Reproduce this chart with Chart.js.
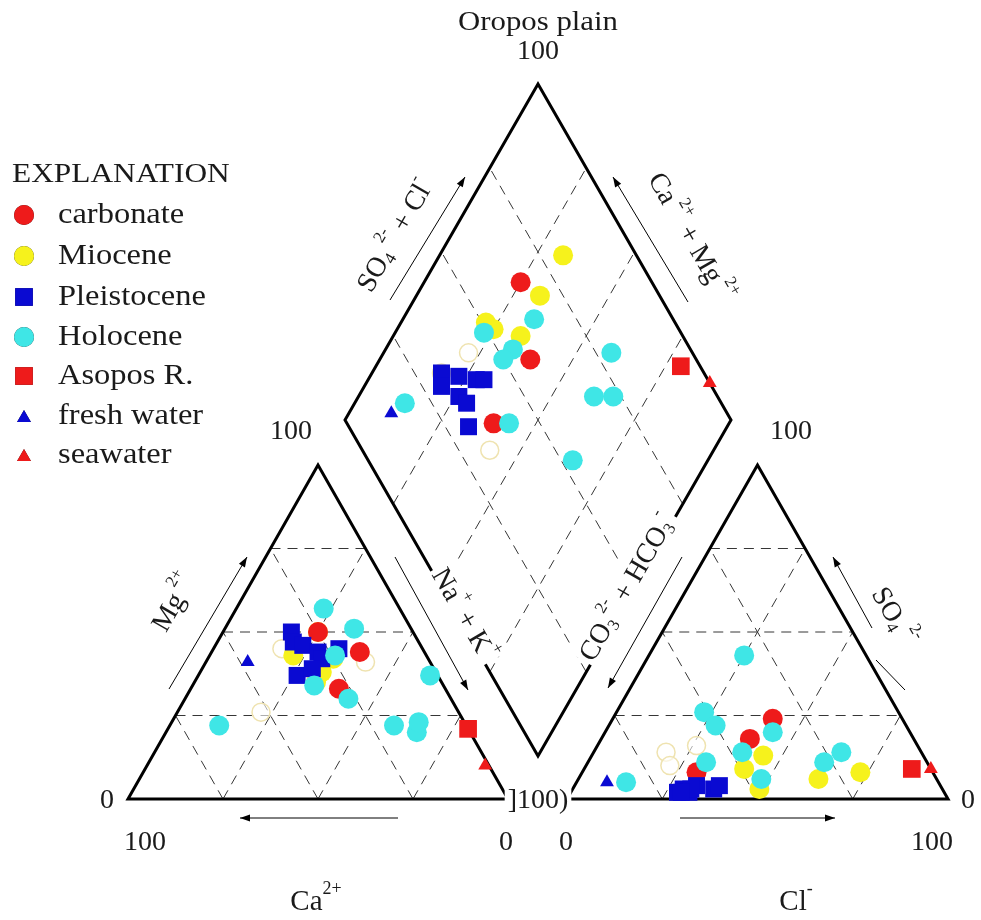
<!DOCTYPE html>
<html><head><meta charset="utf-8">
<script src="https://cdn.jsdelivr.net/npm/chart.js@4.4.1/dist/chart.umd.min.js"></script>
<style>html,body{margin:0;padding:0;background:#fff}#wrap{width:981px;height:920px;position:relative}</style>
</head><body><div id="wrap"><canvas id="c"></canvas></div>
<script>
// ---------------- DATA (milliequivalent %) ----------------
// cations: [Ca2+, Mg2+, Na+ + K+]   anions: [CO3 2- + HCO3-, SO4 2-, Cl-]
const seriesNames = ['carbonate','Miocene','Pleistocene','Holocene','Asopos R.','fresh water','seawater'];

const carbonateCations = [[25,50,25],[17,44,39],[28,33,39]];
const carbonateAnions  = [[34,24,42],[43,18,39],[62,8,30]];

const mioceneCations = [[30,38,32],[33,35,32],[35,43,22],[25,42,33],[25,50,25]];
const mioceneAnions  = [[19,8,73],[31,6,63],[49,9,42],[42,13,45],[48,3,49]];

const pleistoceneCations = [[32,50,18],[33,47,20],[31,46,23],[28,44,28],[28,42,30],[37,37,26],[32,39,29],[22,45,33]];
const pleistoceneAnions  = [[68,3,29],[70,2,28],[64,4,32],[60,3,37],[58,4,38],[67,2,31],[66,3,31],[69,2,29]];

const holoceneCations = [[15,51,34],[20,57,23],[24,43,33],[34,34,32],[19,22,59],[2,37,61],[14,20,66],[65,22,13],[27,30,43],[12,23,65]];
const holoceneAnions  = [[36,20,44],[51,26,23],[46,6,48],[50,22,28],[21,14,65],[32,43,25],[27,11,62],[82,5,13],[58,11,31],[47,14,39]];

const asoposCations = [[0,21,79]];
const asoposAnions  = [[5,9,86]];

const freshCations = [[48,41,11]];
const freshAnions  = [[87,5,8]];

const seaCations = [[1,10,89]];
const seaAnions  = [[0,9,91]];

// faint (unfilled) samples
const faintCations = [[52,26,22],[17,41,42],[37,45,18]];
const faintAnions  = [[58,16,26],[67,14,19],[68,10,22]];

const tickLabels = ['0','100'];

// ---------------- GEOMETRY (layout only) ----------------
const GEO = {
  left:  {x0:128, x1:508, yb:799, ya:465},
  right: {x0:567, x1:948, yb:799, ya:465},
  dia:   {cx:538, top:84, bot:756, hw:193}
};
function triXY(g, [lo, up, hi]) { // lo: bottom-left vertex, up: apex, hi: bottom-right
  const s = lo + up + hi, m = up / s, n = hi / s;
  return {x: g.x0 + (g.x1 - g.x0) * (n + m / 2), y: g.yb - (g.yb - g.ya) * m};
}
function cationXY(c) { return triXY(GEO.left, [c[0], c[1], c[2]]); }
function anionXY(a)  { return triXY(GEO.right, [a[0], a[1], a[2]]); }
function diamondXY(c, a) {
  const d = GEO.dia, aN = c[2] / (c[0] + c[1] + c[2]), bS = (a[1] + a[2]) / (a[0] + a[1] + a[2]);
  const hh = (d.bot - d.top) / 2;
  return {x: d.cx + d.hw * (aN + bS - 1), y: d.bot - hh * ((1 - aN) + bS)};
}
function piperPoints(cats, ans) {
  const out = [];
  cats.forEach((c, i) => { out.push(cationXY(c)); out.push(anionXY(ans[i])); out.push(diamondXY(c, ans[i])); });
  return out;
}

const RED = '#ee1b1b', YEL = '#f6f21c', BLU = '#0a0ad2', CYA = '#3fe6e6';
const datasets = [
  {label:'seawater',    data:piperPoints(seaCations, seaAnions), pointStyle:'triangle', pointRadius:8, backgroundColor:RED, order:0},
  {label:'fresh water', data:piperPoints(freshCations, freshAnions), pointStyle:'triangle', pointRadius:8, backgroundColor:BLU, order:1},
  {label:'Asopos R.',   data:piperPoints(asoposCations, asoposAnions), pointStyle:'rect', pointRadius:12.5, backgroundColor:RED, order:2},
  {label:'Holocene',    data:piperPoints(holoceneCations, holoceneAnions), pointStyle:'circle', pointRadius:10, backgroundColor:CYA, order:3},
  {label:'Pleistocene', data:piperPoints(pleistoceneCations, pleistoceneAnions), pointStyle:'rect', pointRadius:12, backgroundColor:BLU, order:4},
  {label:'carbonate',   data:piperPoints(carbonateCations, carbonateAnions), pointStyle:'circle', pointRadius:10, backgroundColor:RED, order:5},
  {label:'Miocene',     data:piperPoints(mioceneCations, mioceneAnions), pointStyle:'circle', pointRadius:10, backgroundColor:YEL, order:6},
  {label:'',            data:piperPoints(faintCations, faintAnions), pointStyle:'circle', pointRadius:9, backgroundColor:'rgba(255,255,255,0.6)', borderColor:'#efe3b0', borderWidth:1.5, order:7}
].map(d => Object.assign({borderWidth:0, showLine:false, pointHoverRadius:d.pointRadius}, d));

// ---------------- DRAW HELPERS ----------------
const SERIF = '"Liberation Serif","DejaVu Serif",serif';
function rich(ctx, segs, cx, cy, angle, size, bg, sx) {
  ctx.save();
  ctx.translate(cx, cy); ctx.rotate(angle * Math.PI / 180); if (sx) ctx.scale(sx, 1);
  ctx.textBaseline = 'middle';
  const fontFor = k => (k === 'n' ? size : Math.round(size * 0.62)) + 'px ' + SERIF;
  let w = 0; const ws = segs.map(([t, k]) => { ctx.font = fontFor(k); const v = ctx.measureText(t).width; w += v; return v; });
  if (bg) { ctx.fillStyle = '#fff'; ctx.fillRect(-w / 2 - 3, -size * 0.7, w + 6, size * 1.3); }
  let x = -w / 2;
  ctx.fillStyle = '#1a1a1a';
  segs.forEach(([t, k], i) => {
    ctx.font = fontFor(k);
    const dy = k === 'sup' ? -size * 0.45 : k === 'sub' ? size * 0.25 : 0;
    ctx.fillText(t, x, dy); x += ws[i];
  });
  ctx.restore();
}

const frame = {
  id: 'piperFrame',
  beforeDraw(chart) {
    const c = chart.ctx; c.save(); c.fillStyle = '#fff'; c.fillRect(0, 0, chart.width, chart.height); c.restore();
  },
  beforeDatasetsDraw(chart) {
    const ctx = chart.ctx, xs = chart.scales.x, ys = chart.scales.y;
    const P = (x, y) => [xs.getPixelForValue(x), ys.getPixelForValue(y)];
    const seg = (a, b) => { const p = P(a.x, a.y), q = P(b.x, b.y); ctx.moveTo(p[0], p[1]); ctx.lineTo(q[0], q[1]); };
    const fr = [0.25, 0.5, 0.75];
    ctx.save();
    // dashed grid
    ctx.strokeStyle = '#363636'; ctx.lineWidth = 1; ctx.setLineDash([10, 7]);
    ctx.beginPath();
    [GEO.left, GEO.right].forEach(g => {
      const W = g.x1 - g.x0, H = g.yb - g.ya;
      fr.forEach(f => {
        seg({x: g.x0 + f * W / 2, y: g.yb - f * H}, {x: g.x1 - f * W / 2, y: g.yb - f * H});
        seg({x: g.x0 + f * W, y: g.yb}, {x: g.x0 + f * W + (1 - f) * W / 2, y: g.yb - (1 - f) * H});
        seg({x: g.x0 + f * W, y: g.yb}, {x: g.x0 + f * W / 2, y: g.yb - f * H});
      });
    });
    const d = GEO.dia, mid = (d.top + d.bot) / 2;
    const B = {x: d.cx, y: d.bot}, L = {x: d.cx - d.hw, y: mid}, R = {x: d.cx + d.hw, y: mid}, T = {x: d.cx, y: d.top};
    const lerp = (a, b, f) => ({x: a.x + (b.x - a.x) * f, y: a.y + (b.y - a.y) * f});
    fr.forEach(f => {
      seg(lerp(B, L, f), lerp(R, T, f));
      seg(lerp(B, R, f), lerp(L, T, f));
    });
    ctx.stroke();
    // outlines
    ctx.setLineDash([]); ctx.strokeStyle = '#000'; ctx.lineWidth = 3; ctx.lineJoin = 'miter';
    const poly = pts => { ctx.beginPath(); pts.forEach((p, i) => { const q = P(p.x, p.y); i ? ctx.lineTo(q[0], q[1]) : ctx.moveTo(q[0], q[1]); }); ctx.closePath(); ctx.stroke(); };
    [GEO.left, GEO.right].forEach(g => poly([{x: g.x0, y: g.yb}, {x: g.x1, y: g.yb}, {x: (g.x0 + g.x1) / 2, y: g.ya}]));
    poly([B, R, T, L]);
    // thin arrows
    ctx.lineWidth = 1; ctx.fillStyle = '#000';
    const arrow = (x1, y1, x2, y2, head) => {
      const p = P(x1, y1), q = P(x2, y2);
      ctx.beginPath(); ctx.moveTo(p[0], p[1]); ctx.lineTo(q[0], q[1]); ctx.stroke();
      if (head) {
        const a = Math.atan2(q[1] - p[1], q[0] - p[0]), Lh = 10, Wh = 3.5;
        ctx.beginPath(); ctx.moveTo(q[0], q[1]);
        ctx.lineTo(q[0] - Lh * Math.cos(a) + Wh * Math.sin(a), q[1] - Lh * Math.sin(a) - Wh * Math.cos(a));
        ctx.lineTo(q[0] - Lh * Math.cos(a) - Wh * Math.sin(a), q[1] - Lh * Math.sin(a) + Wh * Math.cos(a));
        ctx.closePath(); ctx.fill();
      }
    };
    arrow(169, 689, 247, 557, true);   // Mg
    arrow(395, 557, 468, 690, true);   // Na+K
    arrow(682, 557, 608, 688, true);   // CO3+HCO3
    arrow(872, 628, 833, 557, true);   // SO4
    arrow(876, 660, 905, 690, false);
    arrow(390, 300, 465, 177, true);   // SO4+Cl
    arrow(688, 302, 613, 177, true);   // Ca+Mg
    arrow(398, 818, 240, 818, true);   // Ca
    arrow(680, 818, 835, 818, true);   // Cl
    ctx.restore();

    // axis texts
    const T0 = (segs, x, y, ang, size, bg, sx) => { const p = P(x, y); rich(ctx, segs, p[0], p[1], ang, size, bg, sx); };
    T0([['Oropos plain', 'n']], 538, 23, 0, 28, false, 1.1);
    T0([[tickLabels[1], 'n']], 538, 52, 0, 28);
    T0([[tickLabels[1], 'n']], 291, 432, 0, 28);
    T0([[tickLabels[1], 'n']], 791, 432, 0, 28);
    T0([[tickLabels[0], 'n']], 107, 801, 0, 28);
    T0([[tickLabels[0], 'n']], 968, 801, 0, 28);
    T0([[']' + tickLabels[1] + ')', 'n']], 538, 801, 0, 28, true);
    T0([[tickLabels[1], 'n']], 145, 843, 0, 28);
    T0([[tickLabels[0], 'n']], 506, 843, 0, 28);
    T0([[tickLabels[0], 'n']], 566, 843, 0, 28);
    T0([[tickLabels[1], 'n']], 932, 843, 0, 28);
    T0([['Ca', 'n'], ['2+', 'sup']], 316, 902, 0, 29);
    T0([['Cl', 'n'], ['-', 'sup']], 796, 902, 0, 29);
    T0([['Mg', 'n'], [' 2+', 'sup']], 175, 603, -60, 28);
    T0([['Na', 'n'], ['+', 'sup'], [' + K', 'n'], ['+', 'sup']], 463, 615, 60, 28, true);
    T0([['CO', 'n'], ['3', 'sub'], ['2-', 'sup'], [' + HCO', 'n'], ['3', 'sub'], ['-', 'sup']], 628, 588, -60, 28, true);
    T0([['SO', 'n'], ['4', 'sub'], [' 2-', 'sup']], 893, 617, 60, 28);
    T0([['SO', 'n'], ['4', 'sub'], [' 2-', 'sup'], [' + Cl', 'n'], ['-', 'sup']], 396, 236, -60, 28);
    T0([['Ca', 'n'], [' 2+', 'sup'], [' + Mg', 'n'], [' 2+', 'sup']], 690, 238, 60, 28);
  },
  afterDatasetsDraw(chart) {
    // legend ("EXPLANATION") built from the datasets' own styles
    const ctx = chart.ctx;
    ctx.save();
    ctx.fillStyle = '#1a1a1a'; ctx.textBaseline = 'middle';
    ctx.font = '28px ' + SERIF;
    ctx.save(); ctx.translate(12, 175); ctx.scale(1.12, 1); ctx.fillText('EXPLANATION', 0, 0); ctx.restore();
    const rows = [215, 256, 297, 337, 376, 416, 455];
    seriesNames.forEach((name, i) => {
      const ds = chart.data.datasets.find(d => d.label === name);
      const y = rows[i];
      const r = ds.pointStyle === 'rect' ? 12.5 : ds.pointStyle === 'triangle' ? 8 : 10;
      Chart.helpers.drawPoint(ctx, {pointStyle: ds.pointStyle, radius: r, borderWidth: 0}, 24, y + (ds.pointStyle === 'triangle' ? 2 : 0));
      ctx.fillStyle = ds.backgroundColor; ctx.fill();
      ctx.fillStyle = '#1a1a1a'; ctx.font = '29px ' + SERIF;
      ctx.save(); ctx.translate(58, y); ctx.scale(1.12, 1); ctx.fillText(name, 0, 0); ctx.restore();
    });
    ctx.restore();
  }
};

new Chart(document.getElementById('c'), {
  type: 'scatter',
  data: {datasets},
  options: {
    responsive: true, maintainAspectRatio: false, devicePixelRatio: 1, animation: false,
    layout: {padding: 0, autoPadding: false},
    events: [],
    scales: {
      x: {type: 'linear', min: 0, max: 981, display: false},
      y: {type: 'linear', min: 0, max: 920, reverse: true, display: false}
    },
    plugins: {legend: {display: false}, tooltip: {enabled: false}},
    clip: false
  },
  plugins: [frame]
});
</script>
</body></html>
